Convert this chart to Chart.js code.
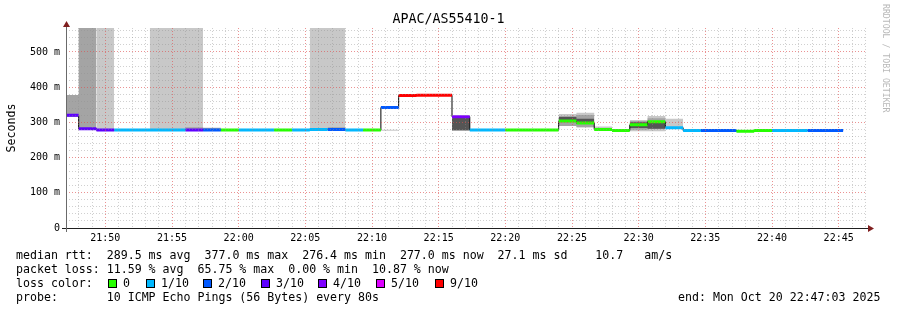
<!DOCTYPE html>
<html>
<head>
<meta charset="utf-8">
<script src="https://cdn.jsdelivr.net/npm/chart.js@4.4.0/dist/chart.umd.min.js"></script>
<style>
  html, body { margin: 0; padding: 0; background: #fff; }
  #wrap { position: relative; width: 897px; height: 310px; overflow: hidden;
          font-family: "DejaVu Sans Mono", monospace; color: #000; }
  #chart { position: absolute; left: 0; top: 0; }
  .title { position: absolute; left: 0; top: 11px; width: 897px; text-align: center;
           font-size: 13.3px; line-height: 16px; }
  .wm { position: absolute; left: 881px; top: 4px; writing-mode: vertical-rl;
        font-size: 8.2px; color: #b8b8b8; }
  .txt { position: absolute; left: 16px; font-size: 11.6px; line-height: 14px; white-space: pre; }
  .item { position: absolute; top: 276px; font-size: 11.6px; line-height: 14px; white-space: pre; }
  .sw { display: inline-block; width: 7px; height: 7px; border: 1px solid #000;
        margin-right: 6px; vertical-align: -1px; }
</style>
</head>
<body>
<div id="wrap">
  <canvas id="chart" width="897" height="310"></canvas>
  <div class="title">APAC/AS55410-1</div>
  <div class="wm">RRDTOOL / TOBI OETIKER</div>
  <div class="txt" style="top:248px">median rtt:  289.5 ms avg  377.0 ms max  276.4 ms min  277.0 ms now  27.1 ms sd    10.7   am/s</div>
  <div class="txt" style="top:262px">packet loss: 11.59 % avg  65.75 % max  0.00 % min  10.87 % now</div>
  <div class="txt" style="top:276px">loss color:</div>
  <div id="lossLegend"></div>
  <div class="txt" style="top:290px">probe:       10 ICMP Echo Pings (56 Bytes) every 80s</div>
  <div class="txt" style="top:290px; left:678px">end: Mon Oct 20 22:47:03 2025</div>
</div>
<script>
// DATA
const rangeStart = '21:47:03';
const rangeEnd = '22:47:03';

// interval i runs from stepTimes[i] to stepTimes[i + 1]
const stepTimes = ['21:47:03','21:48:00','21:49:20','21:50:40','21:52:00','21:53:20','21:54:40',
  '21:56:00','21:57:20','21:58:40','22:00:00','22:01:20','22:02:40','22:04:00','22:05:20',
  '22:06:40','22:08:00','22:09:20','22:10:40','22:12:00','22:13:20','22:14:40','22:16:00',
  '22:17:20','22:18:40','22:20:00','22:21:20','22:22:40','22:24:00','22:25:20','22:26:40',
  '22:28:00','22:29:20','22:30:40','22:32:00','22:33:20','22:34:40','22:36:00','22:37:20',
  '22:38:40','22:40:00','22:41:20','22:42:40','22:44:00','22:45:20'];

// median rtt per interval (ms)
const medianRtt = [320, 282, 278, 278, 278, 278, 278, 278, 278, 278, 278, 278, 278, 278,
  280, 280, 278, 278, 342, 376, 377, 377, 316, 278, 278, 278, 278, 278, 304, 298, 280, 277,
  293, 302, 285, 277, 277, 277, 275, 277, 277, 277, 277, 277];

// lost pings out of 10 per interval
const lossTenths = [3, 3, 3, 1, 1, 1, 1, 3, 2, 0, 1, 1, 0, 1, 1, 2, 1, 0, 2, 9, 9, 9, 4, 1,
  1, 0, 0, 0, 0, 0, 0, 0, 0, 0, 1, 1, 2, 2, 0, 0, 1, 1, 2, 2];

// smoke ranges [low, high] in ms, light / medium / dark shade
const smokeLight = [null, null, [278, 568], null, null, [278, 568], [278, 568], [278, 568],
  null, null, null, null, null, null, [278, 568], [278, 568], null, null, [276, 279],
  null, null, null, null, null, null, null, null, null, [290, 324], [286, 327], [280, 288],
  null, [275, 307], [275, 318], [287, 310], null, null, null, null, null, null, null, null, null];
const smokeMid = [[315, 378], [282, 568], null, null, null, null, null, [279, 286], [279, 285],
  null, null, null, null, null, null, [280, 286], null, null, null, null, null, null, null,
  null, null, null, null, null, [290, 316], [286, 321], null, null, [279, 304], [281, 312],
  null, null, null, null, null, null, null, null, null, null];
const smokeDark = [null, null, null, null, null, null, null, null, null, null, null, null,
  null, null, null, null, null, null, null, null, null, null, [277, 314], null, null, null,
  null, null, [306, 316], [300, 310], null, null, [284, 300], [282, 299], null, null, null,
  null, null, null, null, null, null, null];

const lossLevels = [0, 1, 2, 3, 4, 5, 9];
const lossLabels = ['0', '1/10', '2/10', '3/10', '4/10', '5/10', '9/10'];
const lossColors = ['#26ff00', '#00b8ff', '#0059ff', '#5e00ff', '#7e00ff', '#dd00ff', '#ff0000'];

// LEGEND
const legendX = [108, 146, 203, 261, 318, 376, 435];
const legendBox = document.getElementById('lossLegend');
lossLabels.forEach((lab, j) => {
  const el = document.createElement('div');
  el.className = 'item';
  el.style.left = legendX[j] + 'px';
  el.innerHTML = '<span class="sw" style="background:' + lossColors[j] + '"></span>' + lab;
  legendBox.appendChild(el);
});

// HELPERS
const toSec = (s) => {
  const p = s.split(':').map(Number);
  return p[0] * 3600 + p[1] * 60 + p[2];
};
const secs = stepTimes.map(toSec);
const pad2 = (n) => String(n).padStart(2, '0');

function bandEdge(band, k) {
  const pts = [];
  band.forEach((b, i) => {
    if (!b) return;
    const last = pts[pts.length - 1];
    if (last && last.x !== secs[i]) pts.push({x: secs[i], y: null});
    pts.push({x: secs[i], y: b[k]}, {x: secs[i + 1], y: b[k]});
  });
  return pts;
}

function smokeLayer(band, color, order) {
  return [
    {data: bandEdge(band, 1), borderWidth: 0, borderColor: 'rgba(0,0,0,0)',
     backgroundColor: color, fill: '+1', order: order},
    {data: bandEdge(band, 0), borderWidth: 0, borderColor: 'rgba(0,0,0,0)',
     fill: false, order: order}
  ];
}

const datasets = [];
lossLevels.forEach((lvl, j) => {
  const pts = [];
  medianRtt.forEach((m, i) => {
    if (lossTenths[i] !== lvl) return;
    pts.push({x: secs[i], y: m}, {x: secs[i + 1], y: m}, {x: secs[i + 1], y: null});
  });
  datasets.push({label: lossLabels[j], data: pts, borderColor: lossColors[j],
    borderWidth: 3, borderCapStyle: 'butt', fill: false, order: 1});
});

const medianStep = medianRtt.map((m, i) => ({x: secs[i], y: m}));
medianStep.push({x: secs[secs.length - 1], y: medianRtt[medianRtt.length - 1]});
datasets.push({label: 'median', data: medianStep, stepped: true, borderColor: '#000',
  borderWidth: 1, fill: false, order: 2});

datasets.push(...smokeLayer(smokeDark, '#555555', 4));
datasets.push(...smokeLayer(smokeMid, '#a4a4a4', 5));
datasets.push(...smokeLayer(smokeLight, '#c8c8c8', 6));

// AXES + ARROWS
const axisArrows = {
  id: 'axisArrows',
  afterDraw(chart) {
    const {ctx, chartArea: a} = chart;
    ctx.save();
    ctx.lineWidth = 1;
    ctx.strokeStyle = '#1f1f1f';
    ctx.beginPath();
    ctx.moveTo(a.left - 4, a.bottom + 0.5);
    ctx.lineTo(a.right + 3, a.bottom + 0.5);
    ctx.stroke();
    ctx.strokeStyle = '#6a6a6a';
    ctx.beginPath();
    ctx.moveTo(a.left + 0.5, a.bottom + 4);
    ctx.lineTo(a.left + 0.5, a.top - 3);
    ctx.stroke();
    ctx.fillStyle = '#801f1f';
    ctx.beginPath();
    ctx.moveTo(a.left + 0.5, a.top - 7);
    ctx.lineTo(a.left - 3, a.top - 1);
    ctx.lineTo(a.left + 4, a.top - 1);
    ctx.fill();
    ctx.beginPath();
    ctx.moveTo(a.right + 8, a.bottom + 0.5);
    ctx.lineTo(a.right + 2, a.bottom - 3);
    ctx.lineTo(a.right + 2, a.bottom + 4);
    ctx.fill();
    ctx.restore();
  }
};

const minorGrid = 'rgba(143,143,143,0.42)';
const majorGrid = 'rgba(222,79,79,0.62)';
const tickFont = {family: 'DejaVu Sans Mono', size: 10};

// one tick per whole minute
const minuteTicks = (s) => {
  const t = [];
  for (let v = Math.ceil(s.min / 60) * 60; v <= s.max; v += 60) t.push({value: v});
  s.ticks = t;
};

new Chart(document.getElementById('chart'), {
  type: 'line',
  data: {datasets: datasets},
  options: {
    responsive: false,
    animation: false,
    events: [],
    layout: {padding: {top: 28, right: 31, left: 0, bottom: 0}},
    elements: {point: {radius: 0}, line: {tension: 0}},
    plugins: {legend: {display: false}, tooltip: {enabled: false}},
    scales: {
      x: {
        type: 'linear',
        min: toSec(rangeStart),
        max: toSec(rangeEnd),
        afterBuildTicks: minuteTicks,
        afterFit: (s) => { s.height = 82; },
        grid: {
          z: 1,
          drawTicks: false,
          color: (c) => (c.tick && c.tick.value % 300 === 0) ? majorGrid : minorGrid
        },
        border: {display: false, dash: [1, 2]},
        ticks: {
          autoSkip: false,
          maxRotation: 0,
          minRotation: 0,
          padding: 4,
          color: '#000',
          font: tickFont,
          callback: (v) => v % 300 === 0
            ? pad2(Math.floor(v / 3600)) + ':' + pad2(Math.floor(v % 3600 / 60)) : ''
        }
      },
      y: {
        min: 0,
        max: 568,
        afterFit: (s) => { s.width = 66; },
        grid: {
          z: 1,
          drawTicks: false,
          color: (c) => (c.tick && c.tick.value % 100 === 0) ? majorGrid : minorGrid
        },
        border: {display: false, dash: [1, 2]},
        title: {
          display: true,
          text: 'Seconds',
          color: '#000',
          font: {family: 'DejaVu Sans Mono', size: 11.6},
          padding: {top: 5, bottom: 0}
        },
        ticks: {
          stepSize: 20,
          includeBounds: false,
          autoSkip: false,
          padding: 6,
          color: '#000',
          font: tickFont,
          callback: (v) => v % 100 === 0 ? (v === 0 ? '0' : v + ' m') : ''
        }
      }
    }
  },
  plugins: [axisArrows]
});
</script>
</body>
</html>
